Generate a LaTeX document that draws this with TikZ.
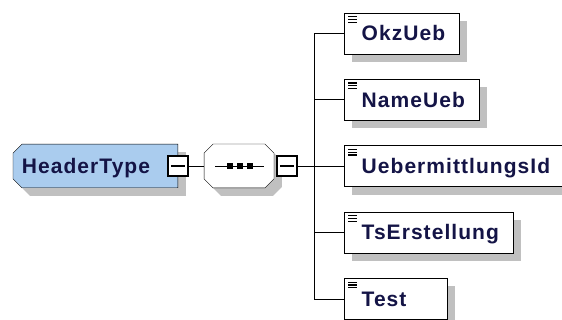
\documentclass[tikz,border=0pt]{standalone}
\usepackage{fontspec}
\setmainfont{Liberation Sans}
\newfontfamily\xsdfont[LetterSpace=5]{Liberation Sans}
\usepackage{tikz}
\usetikzlibrary{calc, shadows, positioning, backgrounds}

\definecolor{typeblue}{RGB}{170,204,238}
\definecolor{shadowgray}{RGB}{192,192,192}
\definecolor{labelnavy}{RGB}{20,20,70}

\begin{document}
\begin{tikzpicture}[x=1pt, y=-1pt, line width=1.9pt]
\tikzstyle{xs_shadow}=[drop shadow={shadow xshift=8pt, shadow yshift=-8pt,
	fill=shadowgray, opacity=1}]
\tikzstyle{xs_text}=[font=\xsdfont\bfseries\fontsize{21}{21}\selectfont, text=labelnavy]
\tikzstyle{xs_elem}=[rectangle, draw, fill=white, xs_shadow, anchor=west,
	minimum height=41pt, inner xsep=17.5pt, inner ysep=0pt,
	text height=28pt, text depth=13pt, align=left, xs_text]
\tikzstyle{xs_minus}=[rectangle, draw, fill=white, minimum size=20pt, inner sep=0pt]
\tikzstyle{xs_offset}=[transform canvas={xshift=8pt, yshift=-8pt}]

\useasboundingbox (0,0) rectangle (562,320);

% complex type
\node at (13,166) [rectangle, anchor=west, minimum width=163pt, minimum height=41.7pt,
	inner xsep=8pt, inner ysep=0pt, text width=147pt, align=left,
	text height=28pt, text depth=13.7pt, xs_text] (ht) {HeaderType};
\node at (ht.east) [xs_minus] (ht_minus) {};

% sequence
\node at (239,166) [rectangle, minimum width=68pt, minimum height=42pt] (seq) {};
\node [xs_minus, right=2pt of seq] (seq_minus) {};

\begin{pgfonlayer}{background}
\fill[shadowgray, xs_offset] ($(ht.north west)+(0,9)$) -- ($(ht.north west)+(9,0)$)
	-- (ht.north east) -- (ht.south east) -- ($(ht.south west)+(9,0)$)
	-- ($(ht.south west)+(0,-9)$) -- cycle;
\filldraw[fill=typeblue] ($(ht.north west)+(0,9)$) -- ($(ht.north west)+(9,0)$)
	-- (ht.north east) -- (ht.south east) -- ($(ht.south west)+(9,0)$)
	-- ($(ht.south west)+(0,-9)$) -- cycle;
\fill[shadowgray, xs_offset] ($(seq.north west)+(0,9)$) -- ($(seq.north west)+(9,0)$)
	-- ($(seq.north east)+(-9,0)$) -- ($(seq.north east)+(0,9)$)
	-- ($(seq.south east)+(0,-9)$) -- ($(seq.south east)+(-9,0)$)
	-- ($(seq.south west)+(9,0)$) -- ($(seq.south west)+(0,-9)$) -- cycle;
\filldraw[fill=white] ($(seq.north west)+(0,9)$) -- ($(seq.north west)+(9,0)$)
	-- ($(seq.north east)+(-9,0)$) -- ($(seq.north east)+(0,9)$)
	-- ($(seq.south east)+(0,-9)$) -- ($(seq.south east)+(-9,0)$)
	-- ($(seq.south west)+(9,0)$) -- ($(seq.south west)+(0,-9)$) -- cycle;
\end{pgfonlayer}

\draw ($(seq.center)+(-24,0)$) -- ($(seq.center)+(25,0)$);
\foreach \dx in {-9,1,11}
	\fill ($(seq.center)+(\dx-3,-3)$) rectangle ++(6,6);

% elements
\node at (344,33.3) [xs_elem, text width=80pt] (okz) {OkzUeb};
\node at (344,99.7) [xs_elem, text width=100pt] (name) {NameUeb};
\node at (344,166.1) [xs_elem, text width=183pt] (ueb) {UebermittlungsId};
\node at (344,232.5) [xs_elem, text width=134pt] (ts) {TsErstellung};
\node at (344,298.9) [xs_elem, text width=68pt] (test) {Test};

\foreach \n in {okz,name,ueb,ts,test}
	\foreach \dy in {4,6.8,9.6}
		\draw[line width=1.3pt] ($(\n.north west)+(4,\dy)$) -- ++(9,0);
\foreach \n in {ht_minus,seq_minus}
	\draw[line width=1.3pt] ($(\n.west)+(4,0)$) -- ($(\n.east)+(-4,0)$);

% connectors
\coordinate (fork) at (314,166);
\draw (ht_minus.east) -- (seq.west);
\draw (seq_minus.east) -- (fork);
\draw (fork |- okz.west) -- (fork |- test.west);
\foreach \n in {okz,name,ueb,ts,test}
	\draw (fork |- \n.west) -- (\n.west);

\end{tikzpicture}
\end{document}
